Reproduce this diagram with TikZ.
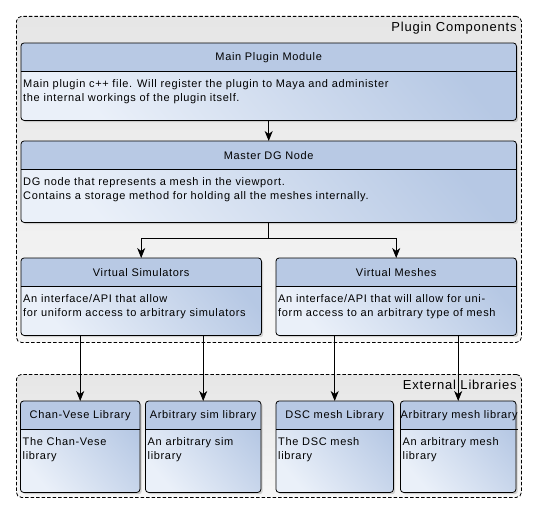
\documentclass[tikz,border=0pt]{standalone}
\usepackage{fontspec}
\setmainfont{Liberation Sans}
\newfontfamily\diafont[LetterSpace=6.0]{Liberation Sans}
\usetikzlibrary{shadows,arrows.meta}

\definecolor{headfill}{RGB}{184,201,228}
\definecolor{bodylight}{RGB}{234,240,249}
\definecolor{bodydark}{RGB}{182,200,228}
\definecolor{grouptop}{RGB}{230,230,230}
\definecolor{groupbottom}{RGB}{246,246,246}

\tikzset{
  container/.style={draw, line width=0.8pt, dash pattern=on 3.5pt off 2pt, rounded corners=5pt,
    anchor=north west, inner sep=0pt, top color=grouptop, bottom color=groupbottom},
  grouplabel/.style={font=\diafont\fontsize{13}{15}\selectfont, inner sep=0pt, anchor=east},
  boxbody/.style={rectangle, rounded corners=3pt, anchor=north west, inner sep=0pt,
    top color=bodydark, bottom color=bodylight, shading angle=-50,
    drop shadow={shadow xshift=2pt, shadow yshift=-2pt, opacity=0.3}},
  boxhead/.style={anchor=north west, minimum height=28pt, inner sep=0pt,
    font=\diafont\fontsize{11}{14}\selectfont},
  boxtext/.style={anchor=north west, inner sep=1pt, align=left,
    font=\diafont\fontsize{11}{14}\selectfont},
  arr/.style={-{Stealth[length=10pt,width=8pt,inset=3pt]}, line width=0.8pt}
}

% name, x, y, width, height, title, body
\newcommand{\umlbox}[7]{%
  \node[boxbody, minimum width=#4pt, minimum height=#5pt] (#1) at (#2,#3) {};
  \begin{scope}
    \clip[rounded corners=3pt] (#1.north west) rectangle (#1.south east);
    \fill[headfill] (#1.north west) rectangle ([yshift=-28pt]#1.north east);
  \end{scope}
  \node[boxhead, minimum width=#4pt] (#1-head) at (#1.north west) {#6};
  \draw[line width=0.8pt] (#1-head.south west) -- (#1-head.south east);
  \draw[line width=0.8pt, rounded corners=3pt] (#1.north west) rectangle (#1.south east);
  \node[boxtext] (#1-text) at ([xshift=1pt,yshift=-7pt]#1-head.south west) {#7};
}

\begin{document}
\begin{tikzpicture}[x=1pt, y=-1pt]
\useasboundingbox (0,0) rectangle (537,511);

% groups
\node[container, minimum width=505pt, minimum height=326pt] (plugin) at (16,16) {};
\node[grouplabel] (plugin-label) at ([xshift=-5pt,yshift=-12pt]plugin.north east) {Plugin Components};
\node[container, minimum width=505pt, minimum height=123pt] (external) at (16,374) {};
\node[grouplabel] (external-label) at ([xshift=-5pt,yshift=-11pt]external.north east) {External Libraries};

% plugin components
\umlbox{main}{21}{43}{495}{77}{Main Plugin Module}
  {Main plugin c++ file. Will register the plugin to Maya and administer\\the internal workings of the plugin itself.}
\umlbox{master}{21}{141}{495}{81}{Master DG Node}
  {DG node that represents a mesh in the viewport.\\Contains a storage method for holding all the meshes internally.}
\umlbox{vsim}{21}{258}{240}{77}{Virtual Simulators}
  {An interface/API that allow\\for uniform access to arbitrary simulators}
\umlbox{vmesh}{276}{258}{240}{77}{Virtual Meshes}
  {An interface/API that will allow for uni-\\form access to an arbitrary type of mesh}

% external libraries
\umlbox{chan}{20.5}{401}{119}{91}{Chan-Vese Library}{The Chan-Vese\\library}
\umlbox{arbsim}{145.5}{401}{115}{91}{Arbitrary sim library}{An arbitrary sim\\library}
\umlbox{dsc}{276}{401}{117}{91}{DSC mesh Library}{The DSC mesh\\library}
\umlbox{arbmesh}{400.5}{401}{115}{91}{Arbitrary mesh library}{An arbitrary mesh\\library}

% connectors
\draw[arr] (main.south) -- (master.north);
\coordinate (split) at ([yshift=-16pt]master.south);
\draw[line width=0.8pt] (master.south) -- (split);
\draw[arr] (split) -| (vsim.north);
\draw[arr] (split) -| (vmesh.north);
\draw[arr] (vsim.south -| chan.north) -- (chan.north);
\draw[arr] (vsim.south -| arbsim.north) -- (arbsim.north);
\draw[arr] (vmesh.south -| dsc.north) -- (dsc.north);
\draw[arr] (vmesh.south -| arbmesh.north) -- (arbmesh.north);
\end{tikzpicture}
\end{document}
